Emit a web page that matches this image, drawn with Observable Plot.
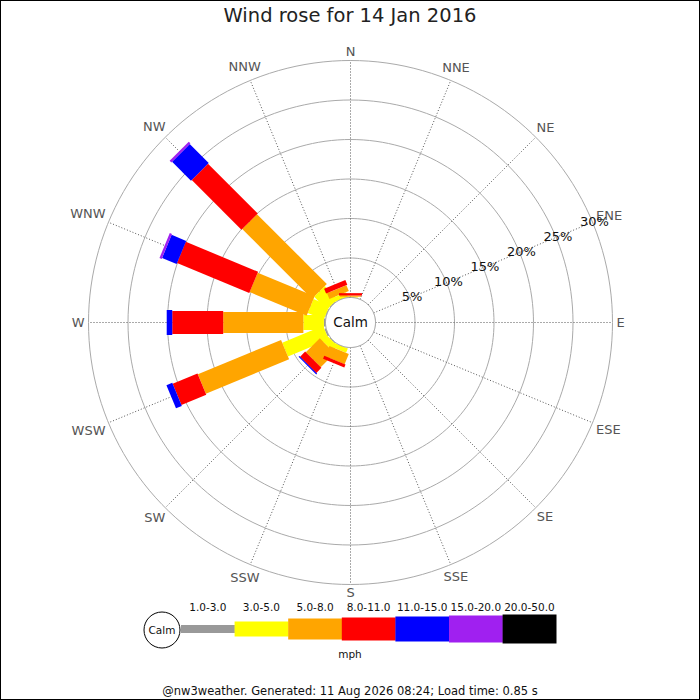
<!DOCTYPE html>
<html><head><meta charset="utf-8">
<script src="https://cdn.jsdelivr.net/npm/d3@7"></script>
<script src="https://cdn.jsdelivr.net/npm/@observablehq/plot@0.6"></script>
<style>
body{margin:0;background:#fff;font-family:"DejaVu Sans",sans-serif;}
#wrap{position:relative;width:700px;height:700px;overflow:hidden;background:#fff;}
#title{position:absolute;left:0;top:4px;width:700px;text-align:center;font-size:19.5px;color:#222;}
#chart{position:absolute;left:0;top:35px;}
#legend{position:absolute;left:0;top:600px;}
#footer{position:absolute;left:0;top:684px;width:700px;text-align:center;font-size:11.5px;color:#111;}
#border{position:absolute;left:0;top:0;width:700px;height:700px;box-sizing:border-box;border:1px solid #000;pointer-events:none;}
</style></head><body>
<div id="wrap">
<div id="title">Wind rose for 14 Jan 2016</div>
<div id="chart"></div>
<div id="legend"></div>
<div id="footer">@nw3weather. Generated: 11 Aug 2026 08:24; Load time: 0.85 s</div>
<div id="border"></div>
</div>
<script>
// ---- data ----
const directions = ["N","NNE","NE","ENE","E","ESE","SE","SSE","S","SSW","SW","WSW","W","WNW","NW","NNW"];
const speedBins = ["1.0-3.0","3.0-5.0","5.0-8.0","8.0-11.0","11.0-15.0","15.0-20.0","20.0-50.0"];
const binColors = ["#999999","#ffff00","#ffa500","#ff0000","#0000ff","#a020f0","#000000"];
// percentage of time per direction (order as in directions)
const s1_3   = [0,   0,0,0,0,0,0,0,0, 0,   0.1, 0.2,  0.2,   0.1, 0.1,  0   ];
const s3_5   = [0.1, 0,0,0,0,0,0,0,0, 0.6, 0.9, 5.6,  2.6,   2.2, 2.3,  0.6 ];
const s5_8   = [0.15,0,0,0,0,0,0,0,0, 1.4, 2.5, 11.4, 10.15, 7.8, 12.5, 0.8 ];
const s8_11  = [0.3, 0,0,0,0,0,0,0,0, 0.4, 0.9, 3.4,  6.45,  9.9, 8.9,  0.65];
const s11_15 = [0,   0,0,0,0,0,0,0,0, 0,   0.15,0.8,  0.7,   2.0, 3.4,  0   ];
const s15_20 = [0,   0,0,0,0,0,0,0,0, 0,   0,   0,    0,     0.3, 0.3,  0   ];
const s20_50 = [0,   0,0,0,0,0,0,0,0, 0,   0,   0,    0,     0,   0,    0   ];
const ringPcts = [5,10,15,20,25,30];
const labelAngleDir = "ENE";

// ---- layout/style constants ----
const binWidths = [8,15,21,23,25,27,29];
const pxPerPct = 7.9, calmPx = 25;
const calmU = calmPx / pxPerPct;
const W = 700, H = 570, cx = 350, cy = 287;
const u = p => calmU + p;
const rad = a => a * Math.PI / 180;
const dirAngle = d => directions.indexOf(d) * 22.5;
const maxPct = ringPcts[ringPcts.length - 1];

const bins = [s1_3, s3_5, s5_8, s8_11, s11_15, s15_20, s20_50];
const segs = [];
directions.forEach((d, i) => {
  let c = 0;
  bins.forEach((arr, b) => {
    const v = arr[i];
    if (v > 0) segs.push({dir: d, a: i * 22.5, bin: b, p0: c, p1: c + v});
    c += v;
  });
});

function circlePts(rU, key) {
  const pts = [];
  for (let a = 0; a < 360; a += 2) pts.push({k: key, x: rU * Math.sin(rad(a)), y: rU * Math.cos(rad(a))});
  return pts;
}
const ringPts = ringPcts.flatMap(p => circlePts(u(p), p));
const calmPts = circlePts(calmU, "calm");

const glyph = {N: .748, E: .632, S: .635, W: .989};
const dirLabels = directions.map(d => {
  const a = rad(dirAngle(d));
  const w = [...d].reduce((s, ch) => s + glyph[ch], 0) * 13;
  const rPx = u(maxPct) * pxPerPct + 4 + (w / 2) * Math.abs(Math.sin(a)) + 4.75 * Math.abs(Math.cos(a));
  const rU = rPx / pxPerPct;
  return {d, x: rU * Math.sin(a), y: rU * Math.cos(a)};
});
const la = rad(dirAngle(labelAngleDir));
const pctLabels = ringPcts.map(p => ({t: p + "%", x: (u(p) + 2 / pxPerPct) * Math.sin(la), y: (u(p) + 2 / pxPerPct) * Math.cos(la)}));

const xD = cx / pxPerPct;
const chart = Plot.plot({
  width: W, height: H, margin: 0,
  style: {fontFamily: "DejaVu Sans, sans-serif", background: "transparent", overflow: "visible"},
  x: {domain: [-xD, xD], axis: null},
  y: {domain: [-(H - cy) / pxPerPct, cy / pxPerPct], axis: null},
  marks: [
    Plot.line(ringPts, {x: "x", y: "y", z: "k", stroke: "#aaa", strokeWidth: 1, curve: "linear-closed"}),
    Plot.link(directions, {
      x1: d => calmU * Math.sin(rad(dirAngle(d))), y1: d => calmU * Math.cos(rad(dirAngle(d))),
      x2: d => u(maxPct) * Math.sin(rad(dirAngle(d))), y2: d => u(maxPct) * Math.cos(rad(dirAngle(d))),
      stroke: "#555", strokeWidth: 1, strokeDasharray: "1,2"
    }),
    ...speedBins.map((b, bi) => Plot.link(segs.filter(s => s.bin === bi), {
      x1: s => u(s.p0) * Math.sin(rad(s.a)), y1: s => u(s.p0) * Math.cos(rad(s.a)),
      x2: s => u(s.p1) * Math.sin(rad(s.a)), y2: s => u(s.p1) * Math.cos(rad(s.a)),
      stroke: binColors[bi], strokeWidth: binWidths[bi], strokeLinecap: "butt", strokeOpacity: 1
    })),
    Plot.line(calmPts, {x: "x", y: "y", fill: "white", stroke: "#999", strokeWidth: 1, curve: "linear-closed"}),
    Plot.text(["Calm"], {x: () => 0, y: () => 0, text: d => d, fontSize: 13.5, fill: "#111"}),
    Plot.text(dirLabels, {x: "x", y: "y", text: "d", fontSize: 13, fill: "#555"}),
    Plot.text(pctLabels, {x: "x", y: "y", text: "t", fontSize: 13, fill: "#111"})
  ]
});
document.getElementById("chart").appendChild(chart);

// ---- legend ----
const lg = d3.select("#legend").append("svg").attr("width", 700).attr("height", 80)
  .style("font-family", "DejaVu Sans, sans-serif");
lg.append("circle").attr("cx", 162).attr("cy", 30).attr("r", 18).attr("fill", "#fff").attr("stroke", "#000");
lg.append("text").attr("x", 162).attr("y", 30).attr("text-anchor", "middle").attr("dy", "0.35em")
  .attr("font-size", 10.5).attr("fill", "#111").text("Calm");
const step = 53.6, x0 = 181;
speedBins.forEach((b, i) => {
  lg.append("rect").attr("x", x0 + i * step).attr("width", step + 0.3)
    .attr("y", 29 - binWidths[i] / 2).attr("height", binWidths[i]).attr("fill", binColors[i]);
  lg.append("text").attr("x", x0 + i * step + step / 2).attr("y", 7).attr("dy", "0.35em")
    .attr("text-anchor", "middle").attr("font-size", 10.5).attr("fill", "#111").text(b);
});
lg.append("text").attr("x", 350).attr("y", 54).attr("dy", "0.35em").attr("text-anchor", "middle")
  .attr("font-size", 10.5).attr("fill", "#111").text("mph");
</script>
</body></html>
